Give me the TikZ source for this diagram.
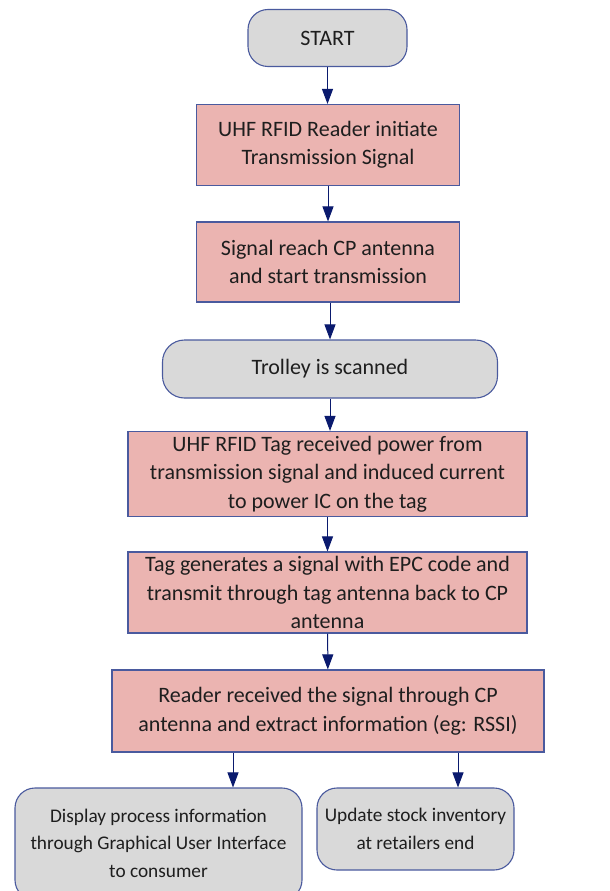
\documentclass[tikz,border=0pt]{standalone}
\usepackage{fontspec}
\setmainfont{Carlito}
\usetikzlibrary{arrows.meta}
\definecolor{edgeblue}{HTML}{4A5A9E}
\definecolor{arrownavy}{HTML}{0A1A6E}
\definecolor{pinkfill}{HTML}{EBB4B1}
\definecolor{greyfill}{HTML}{D9D9D9}
\definecolor{txt}{HTML}{1E1E1E}
\tikzset{
  base/.style={draw=edgeblue, line width=1.1pt, align=center, text=txt,
    font=\fontsize{22}{28.5}\selectfont, inner sep=0pt},
  procbox/.style={base, rectangle, fill=pinkfill},
  termbox/.style={base, rectangle, rounded corners=20pt, fill=greyfill},
  endfont/.style={font=\fontsize{19.3}{27.5}\selectfont},
  arr/.style={draw=arrownavy, line width=1pt,
    -{Triangle[length=15pt,width=11pt]}, color=arrownavy}
}
\begin{document}
\begin{tikzpicture}[x=1pt,y=-1pt]
\clip (0,0) rectangle (610,891);
\fill[white] (0,0) rectangle (610,891);

\node[termbox, minimum width=159pt, minimum height=57pt] (start) at (327.5,38) {START};
\node[procbox, minimum width=263pt, minimum height=81pt] (b1) at (328,145)
  {UHF RFID Reader initiate\\Transmission Signal};
\node[procbox, minimum width=263pt, minimum height=80pt] (b2) at (328,262)
  {Signal reach CP antenna\\and start transmission};
\node[termbox, minimum width=335pt, minimum height=58pt, rounded corners=22pt] (trolley) at (330,369)
  {Trolley is scanned};
\node[procbox, minimum width=399pt, minimum height=85pt] (b4) at (327.5,474)
  {UHF RFID Tag received power from\\transmission signal and induced current\\to power IC on the tag};
\node[procbox, minimum width=399pt, minimum height=81pt] (b5) at (327.5,592.5)
  {Tag generates a signal with EPC code and\\transmit through tag antenna back to CP\\antenna};
\node[procbox, minimum width=432pt, minimum height=82pt] (b6) at (328,711)
  {Reader received the signal through CP\\antenna and extract information (eg: RSSI)};
\node[termbox, minimum width=287pt, minimum height=112pt] (gui) at (158.5,844) {};
\node[align=center, text=txt, endfont] (guitext) at (158.5,843)
  {Display process information\\through Graphical User Interface\\to consumer};
\node[termbox, endfont, minimum width=197pt, minimum height=82pt] (stock) at (415.5,829)
  {Update stock inventory\\at retailers end};

\coordinate (lx) at (233,0);
\coordinate (rx) at (458,0);

\draw[arr] (start) -- (b1.north -| start);
\draw[arr] (b1) -- (b2);
\draw[arr] (b2.south -| trolley) -- (trolley);
\draw[arr] (trolley) -- (b4.north -| trolley);
\draw[arr] (b4) -- (b5);
\draw[arr] (b5) -- (b6);
\draw[arr] (b6.south -| lx) -- (gui.north -| lx);
\draw[arr] (b6.south -| rx) -- (stock.north -| rx);
\end{tikzpicture}
\end{document}
